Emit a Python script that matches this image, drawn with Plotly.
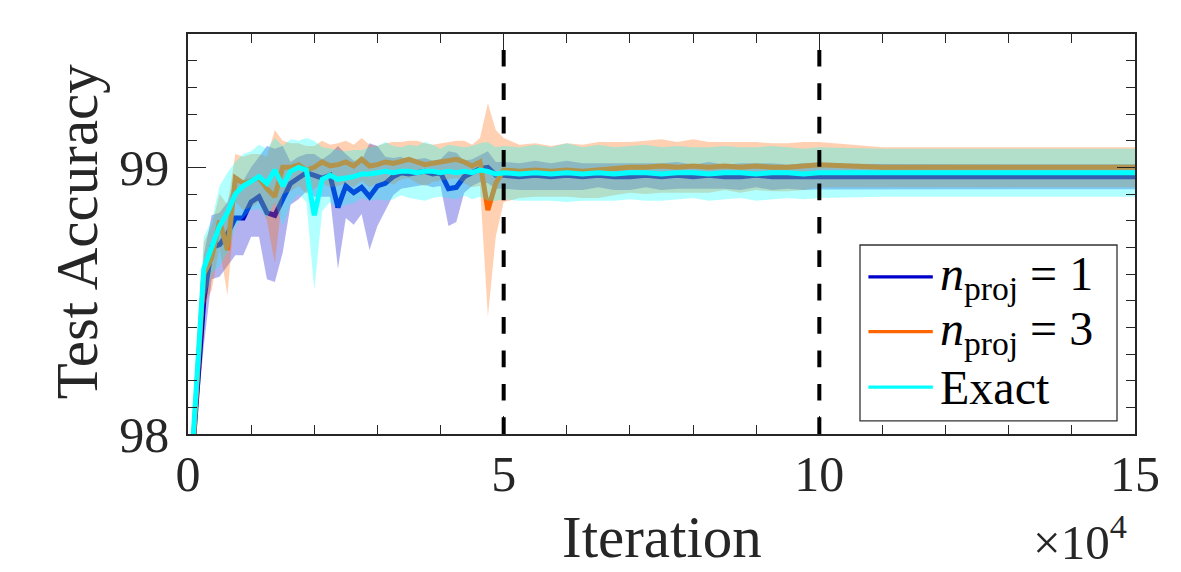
import numpy as np
import plotly.graph_objects as go

# ---------------- data ----------------
iterations = [800, 2500, 3750, 5000, 6250, 7500, 8750, 10000, 11250, 12500,
              13750, 15000, 16250, 17500, 18750, 20000, 21250, 22500, 23750, 25000,
              26250, 27500, 28750, 30000, 31250, 32500, 33750, 35000, 36250, 37500,
              38750, 40000, 41250, 42500, 43750, 45000, 46250, 47500, 48750, 50000,
              52500, 55000, 57500, 60000, 62500, 65000, 67500, 70000, 72500, 75000,
              77500, 80000, 82500, 85000, 87500, 90000, 92500, 95000, 97500, 100000,
              110000, 120000, 130000, 140000, 150000]

acc_proj1 = [97.95, 98.50, 98.70, 98.71, 98.75, 98.81, 98.81, 98.87, 98.89, 98.83,
             98.82, 98.88, 98.94, 98.96, 98.98, 98.97, 98.96, 98.97, 98.85, 98.93,
             98.905, 98.925, 98.89, 98.93, 98.94, 98.965, 98.98, 98.975, 98.98, 98.985,
             98.975, 98.98, 98.92, 98.925, 98.965, 98.98, 98.995, 99.0, 98.97, 98.97,
             98.965, 98.97, 98.965, 98.97, 98.965, 98.97, 98.965, 98.965, 98.97, 98.965,
             98.97, 98.965, 98.97, 98.965, 98.965, 98.97, 98.965, 98.965, 98.965, 98.965,
             98.965, 98.965, 98.965, 98.965, 98.965]
std_proj1 = [0.04, 0.17, 0.12, 0.12, 0.12, 0.14, 0.14, 0.13, 0.15, 0.25,
             0.25, 0.20, 0.08, 0.08, 0.07, 0.08, 0.07, 0.08, 0.23, 0.12,
             0.12, 0.10, 0.20, 0.15, 0.10, 0.07, 0.06, 0.05, 0.05, 0.05,
             0.05, 0.05, 0.14, 0.13, 0.06, 0.05, 0.05, 0.06, 0.05, 0.05,
             0.05, 0.055, 0.05, 0.055, 0.05, 0.045, 0.05, 0.05, 0.045, 0.05,
             0.05, 0.045, 0.05, 0.045, 0.05, 0.045, 0.05, 0.045, 0.05, 0.048,
             0.047, 0.047, 0.047, 0.047, 0.047]

acc_proj3 = [97.95, 98.60, 98.66, 98.80, 98.69, 98.96, 98.94, 98.95, 98.96, 98.92,
             98.89, 99.0, 99.0, 99.01, 98.99, 99.0, 99.02, 99.005, 99.01, 99.02,
             99.005, 99.03, 99.005, 99.01, 99.02, 99.015, 99.025, 99.03, 99.02, 99.01,
             99.015, 99.02, 99.025, 99.03, 99.02, 99.005, 99.02, 98.84, 98.94, 98.99,
             98.985, 98.99, 98.985, 98.99, 98.985, 98.99, 98.995, 99.0, 99.0, 99.005,
             99.0, 99.005, 99.0, 99.005, 99.0, 99.005, 99.0, 99.0, 99.005, 99.01,
             99.0, 99.0, 99.0, 99.0, 99.0]
std_proj3 = [0.04, 0.12, 0.12, 0.10, 0.17, 0.09, 0.10, 0.10, 0.09, 0.12,
             0.25, 0.10, 0.09, 0.08, 0.09, 0.08, 0.08, 0.08, 0.08, 0.08,
             0.08, 0.08, 0.08, 0.07, 0.07, 0.08, 0.07, 0.07, 0.08, 0.08,
             0.07, 0.07, 0.07, 0.07, 0.08, 0.08, 0.09, 0.40, 0.20, 0.12,
             0.10, 0.10, 0.095, 0.10, 0.10, 0.105, 0.10, 0.095, 0.10, 0.10,
             0.095, 0.10, 0.095, 0.09, 0.095, 0.09, 0.09, 0.09, 0.09, 0.085,
             0.075, 0.075, 0.075, 0.075, 0.075]

acc_exact = [97.98, 98.62, 98.70, 98.78, 98.83, 98.90, 98.93, 98.95, 98.965, 98.94,
             98.99, 98.93, 98.985, 99.0, 98.99, 98.82, 98.955, 98.97, 98.955, 98.96,
             98.965, 98.975, 98.975, 98.98, 98.985, 98.98, 98.985, 98.985, 98.98, 98.985,
             98.985, 98.98, 98.985, 98.98, 98.985, 98.98, 98.99, 98.985, 98.975, 98.98,
             98.975, 98.98, 98.975, 98.98, 98.975, 98.98, 98.975, 98.98, 98.98, 98.975,
             98.98, 98.98, 98.975, 98.98, 98.98, 98.975, 98.98, 98.98, 98.975, 98.98,
             98.98, 98.98, 98.98, 98.98, 98.98]
std_exact = [0.04, 0.12, 0.10, 0.15, 0.15, 0.12, 0.12, 0.11, 0.12, 0.13,
             0.12, 0.15, 0.12, 0.10, 0.12, 0.28, 0.12, 0.10, 0.11, 0.10,
             0.10, 0.09, 0.10, 0.10, 0.11, 0.10, 0.09, 0.10, 0.10, 0.11,
             0.10, 0.09, 0.10, 0.10, 0.09, 0.10, 0.10, 0.11, 0.10, 0.10,
             0.10, 0.105, 0.10, 0.11, 0.10, 0.105, 0.10, 0.10, 0.105, 0.10,
             0.10, 0.095, 0.10, 0.10, 0.095, 0.10, 0.10, 0.095, 0.095, 0.095,
             0.09, 0.09, 0.09, 0.09, 0.09]

series_names = ["<i>n</i><sub>proj</sub> = 1", "<i>n</i><sub>proj</sub> = 3", "Exact"]
phase_boundaries = [50000, 100000]
x_tick_vals = [0, 50000, 100000, 150000]
x_tick_text = ["0", "5", "10", "15"]
y_tick_vals = [98, 99]
y_tick_text = ["98", "99"]

# ---------------- style ----------------
FONT = "Liberation Serif"
INK = "#262626"
line_colors = ["rgb(0,0,204)", "rgb(255,102,0)", "rgb(0,255,255)"]
band_colors = ["rgba(0,0,204,0.3)", "rgba(255,102,0,0.3)", "rgba(0,255,255,0.3)"]

x = np.array(iterations, dtype=float)


def band_trace(mean, std, color):
    m = np.array(mean)
    s = np.array(std)
    up = m + s
    lo = m - s
    return go.Scatter(x=np.concatenate([x, x[::-1]]),
                      y=np.concatenate([up, lo[::-1]]),
                      mode="lines", fill="toself", fillcolor=color,
                      line=dict(width=0), hoverinfo="skip", showlegend=False)


def line_trace(mean, color, name):
    return go.Scatter(x=x, y=mean, mode="lines", name=name,
                      line=dict(color=color, width=5), showlegend=False)


fig = go.Figure()
fig.add_trace(line_trace(acc_proj1, line_colors[0], series_names[0]))
fig.add_trace(band_trace(acc_proj1, std_proj1, band_colors[0]))
fig.add_trace(line_trace(acc_proj3, line_colors[1], series_names[1]))
fig.add_trace(band_trace(acc_proj3, std_proj3, band_colors[1]))
fig.add_trace(band_trace(acc_exact, std_exact, band_colors[2]))
fig.add_trace(line_trace(acc_exact, line_colors[2], series_names[2]))

# phase boundaries (dashed verticals)
for xb in phase_boundaries:
    fig.add_shape(type="line", xref="x", yref="paper", x0=xb, x1=xb, y0=0, y1=1,
                  line=dict(color="black", width=4, dash="16.7px,16.7px"),
                  layer="above")

# ---------------- custom legend ----------------
leg_x0, leg_x1, leg_y0, leg_y1 = 0.7096, 0.981, 0.033, 0.4725
fig.add_shape(type="rect", xref="paper", yref="paper", x0=leg_x0, x1=leg_x1,
              y0=leg_y0, y1=leg_y1, fillcolor="white",
              line=dict(color="#333333", width=1.3), layer="above")
row_y = [0.393, 0.256, 0.117]
for name, col, yy in zip(series_names, line_colors, row_y):
    fig.add_shape(type="line", xref="paper", yref="paper", x0=0.7185, x1=0.7865,
                  y0=yy, y1=yy, line=dict(color=col, width=3.3), layer="above")
    fig.add_annotation(xref="paper", yref="paper", x=0.792, y=yy, text=name,
                       showarrow=False, xanchor="left", yanchor="middle",
                       font=dict(family=FONT, size=48, color="black"))

# axis titles and exponent
fig.add_annotation(xref="paper", yref="paper", x=0.5, y=-0.2575, text="Iteration",
                   showarrow=False, xanchor="center", yanchor="middle",
                   font=dict(family=FONT, size=59, color=INK))
fig.add_annotation(xref="paper", yref="paper", x=-0.117, y=0.505, text="Test Accuracy",
                   showarrow=False, textangle=-90, xanchor="center", yanchor="middle",
                   font=dict(family=FONT, size=59, color=INK))
fig.add_annotation(xref="paper", yref="paper", x=0.942, y=-0.345,
                   text="×10<sup>4</sup>", showarrow=False, xanchor="center",
                   yanchor="bottom", font=dict(family=FONT, size=49, color=INK))

axis_common = dict(showline=True, linecolor=INK, linewidth=1.5, mirror="ticks",
                   ticks="inside", ticklen=18, tickwidth=1.3, tickcolor=INK,
                   showgrid=False, zeroline=False,
                   tickfont=dict(family=FONT, size=50, color=INK))

fig.update_xaxes(range=[0, 150000], tickmode="array", tickvals=x_tick_vals,
                 ticktext=x_tick_text, ticklabelstandoff=-5,
                 minor=dict(dtick=10000, ticks="inside", ticklen=9, tickwidth=1.3,
                            tickcolor=INK, showgrid=False),
                 **axis_common)
fig.update_yaxes(range=[98, 99.5], tickmode="array", tickvals=y_tick_vals,
                 ticktext=y_tick_text, ticklabelstandoff=7,
                 minor=dict(dtick=0.1, ticks="inside", ticklen=9, tickwidth=1.3,
                            tickcolor=INK, showgrid=False),
                 **axis_common)

# the page body adds an 8 px offset, so the figure is 8 px smaller than the window
fig.update_layout(width=1173, height=564, paper_bgcolor="white", plot_bgcolor="white",
                  margin=dict(l=180, r=46, t=26, b=138), showlegend=False,
                  font=dict(family=FONT, color=INK))

fig.write_html("out.html")
